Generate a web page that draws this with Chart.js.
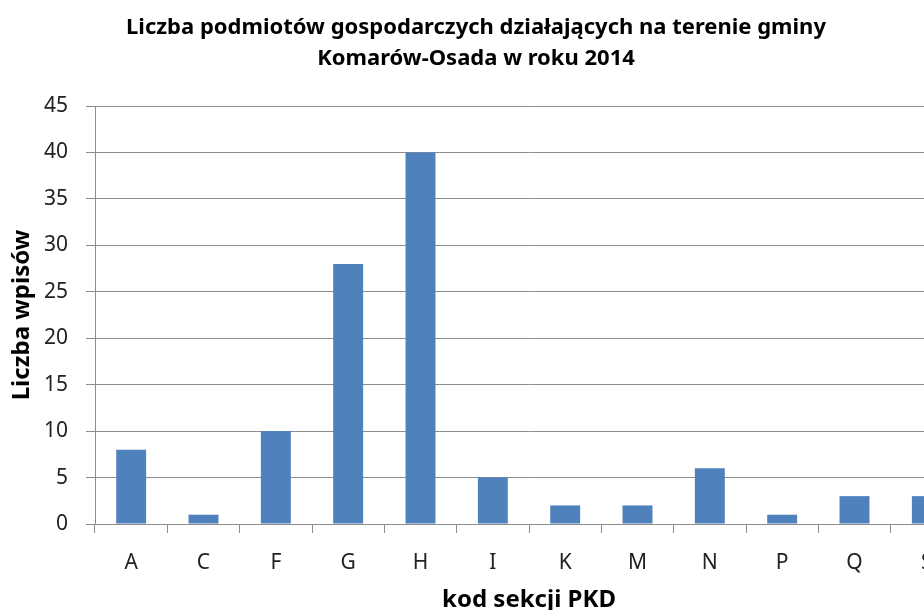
<!DOCTYPE html>
<html>
<head>
<meta charset="utf-8">
<script src="https://cdn.jsdelivr.net/npm/chart.js@4/dist/chart.umd.min.js"></script>
<style>
  html, body { margin: 0; padding: 0; background: #fff; overflow: hidden; }
  #wrap { position: relative; width: 968px; height: 610px; }
  #title {
    position: absolute; left: 0; top: 10px; width: 952px;
    text-align: center; font-family: "Noto Sans", sans-serif; font-weight: bold;
    font-size: 22px; line-height: 31px; color: #000;
  }
</style>
</head>
<body>
<div id="wrap">
  <div id="title">Liczba podmiotów  gospodarczych działających na terenie gminy<br>Komarów-Osada w roku 2014</div>
  <canvas id="chart" width="968" height="610"></canvas>
</div>
<script>
// Data
const sections = ['A', 'C', 'F', 'G', 'H', 'I', 'K', 'M', 'N', 'P', 'Q', 'S'];
const entries = [8, 1, 10, 28, 40, 5, 2, 2, 6, 1, 3, 3];
const yTicks = [0, 5, 10, 15, 20, 25, 30, 35, 40, 45];

const gridColor = '#8c8c8c';
const ctx = document.getElementById('chart').getContext('2d');

new Chart(ctx, {
    type: 'bar',
    data: {
        labels: sections,
        datasets: [{
            label: 'Liczba wpisów',
            data: entries,
            backgroundColor: '#4f81bd',
            borderWidth: 0,
            barPercentage: 0.6,
            categoryPercentage: 0.69
        }]
    },
    options: {
        responsive: false,
        animation: false,
        layout: {
            padding: { top: 106, left: 8, right: 5, bottom: 0 }
        },
        plugins: {
            legend: { display: false },
            tooltip: { enabled: false }
        },
        scales: {
            y: {
                min: 0,
                max: 45,
                afterBuildTicks: axis => {
                    axis.ticks = yTicks.map(v => ({ value: v }));
                },
                // keep the axis line where the reference has it
                afterFit: axis => { axis.width = 87; },
                grid: { color: gridColor, tickLength: 9 },
                border: { color: gridColor },
                ticks: {
                    color: '#222',
                    padding: 18,
                    font: { family: 'Noto Sans', size: 21 }
                },
                title: {
                    display: true,
                    text: 'Liczba wpisów',
                    color: '#000',
                    padding: { top: 2, bottom: 12 },
                    font: { family: 'Noto Sans', size: 24, weight: 'bold', lineHeight: 1 }
                }
            },
            x: {
                afterFit: axis => { axis.height = 86; },
                grid: { drawOnChartArea: false, color: gridColor, tickLength: 9 },
                border: { color: gridColor },
                ticks: {
                    color: '#222',
                    padding: 17,
                    maxRotation: 0,
                    font: { family: 'Noto Sans', size: 21 }
                },
                title: {
                    display: true,
                    text: 'kod sekcji PKD',
                    color: '#000',
                    padding: { top: 13, bottom: -2 },
                    font: { family: 'Noto Sans', size: 24, weight: 'bold', lineHeight: 1 }
                }
            }
        }
    }
});
</script>
</body>
</html>
